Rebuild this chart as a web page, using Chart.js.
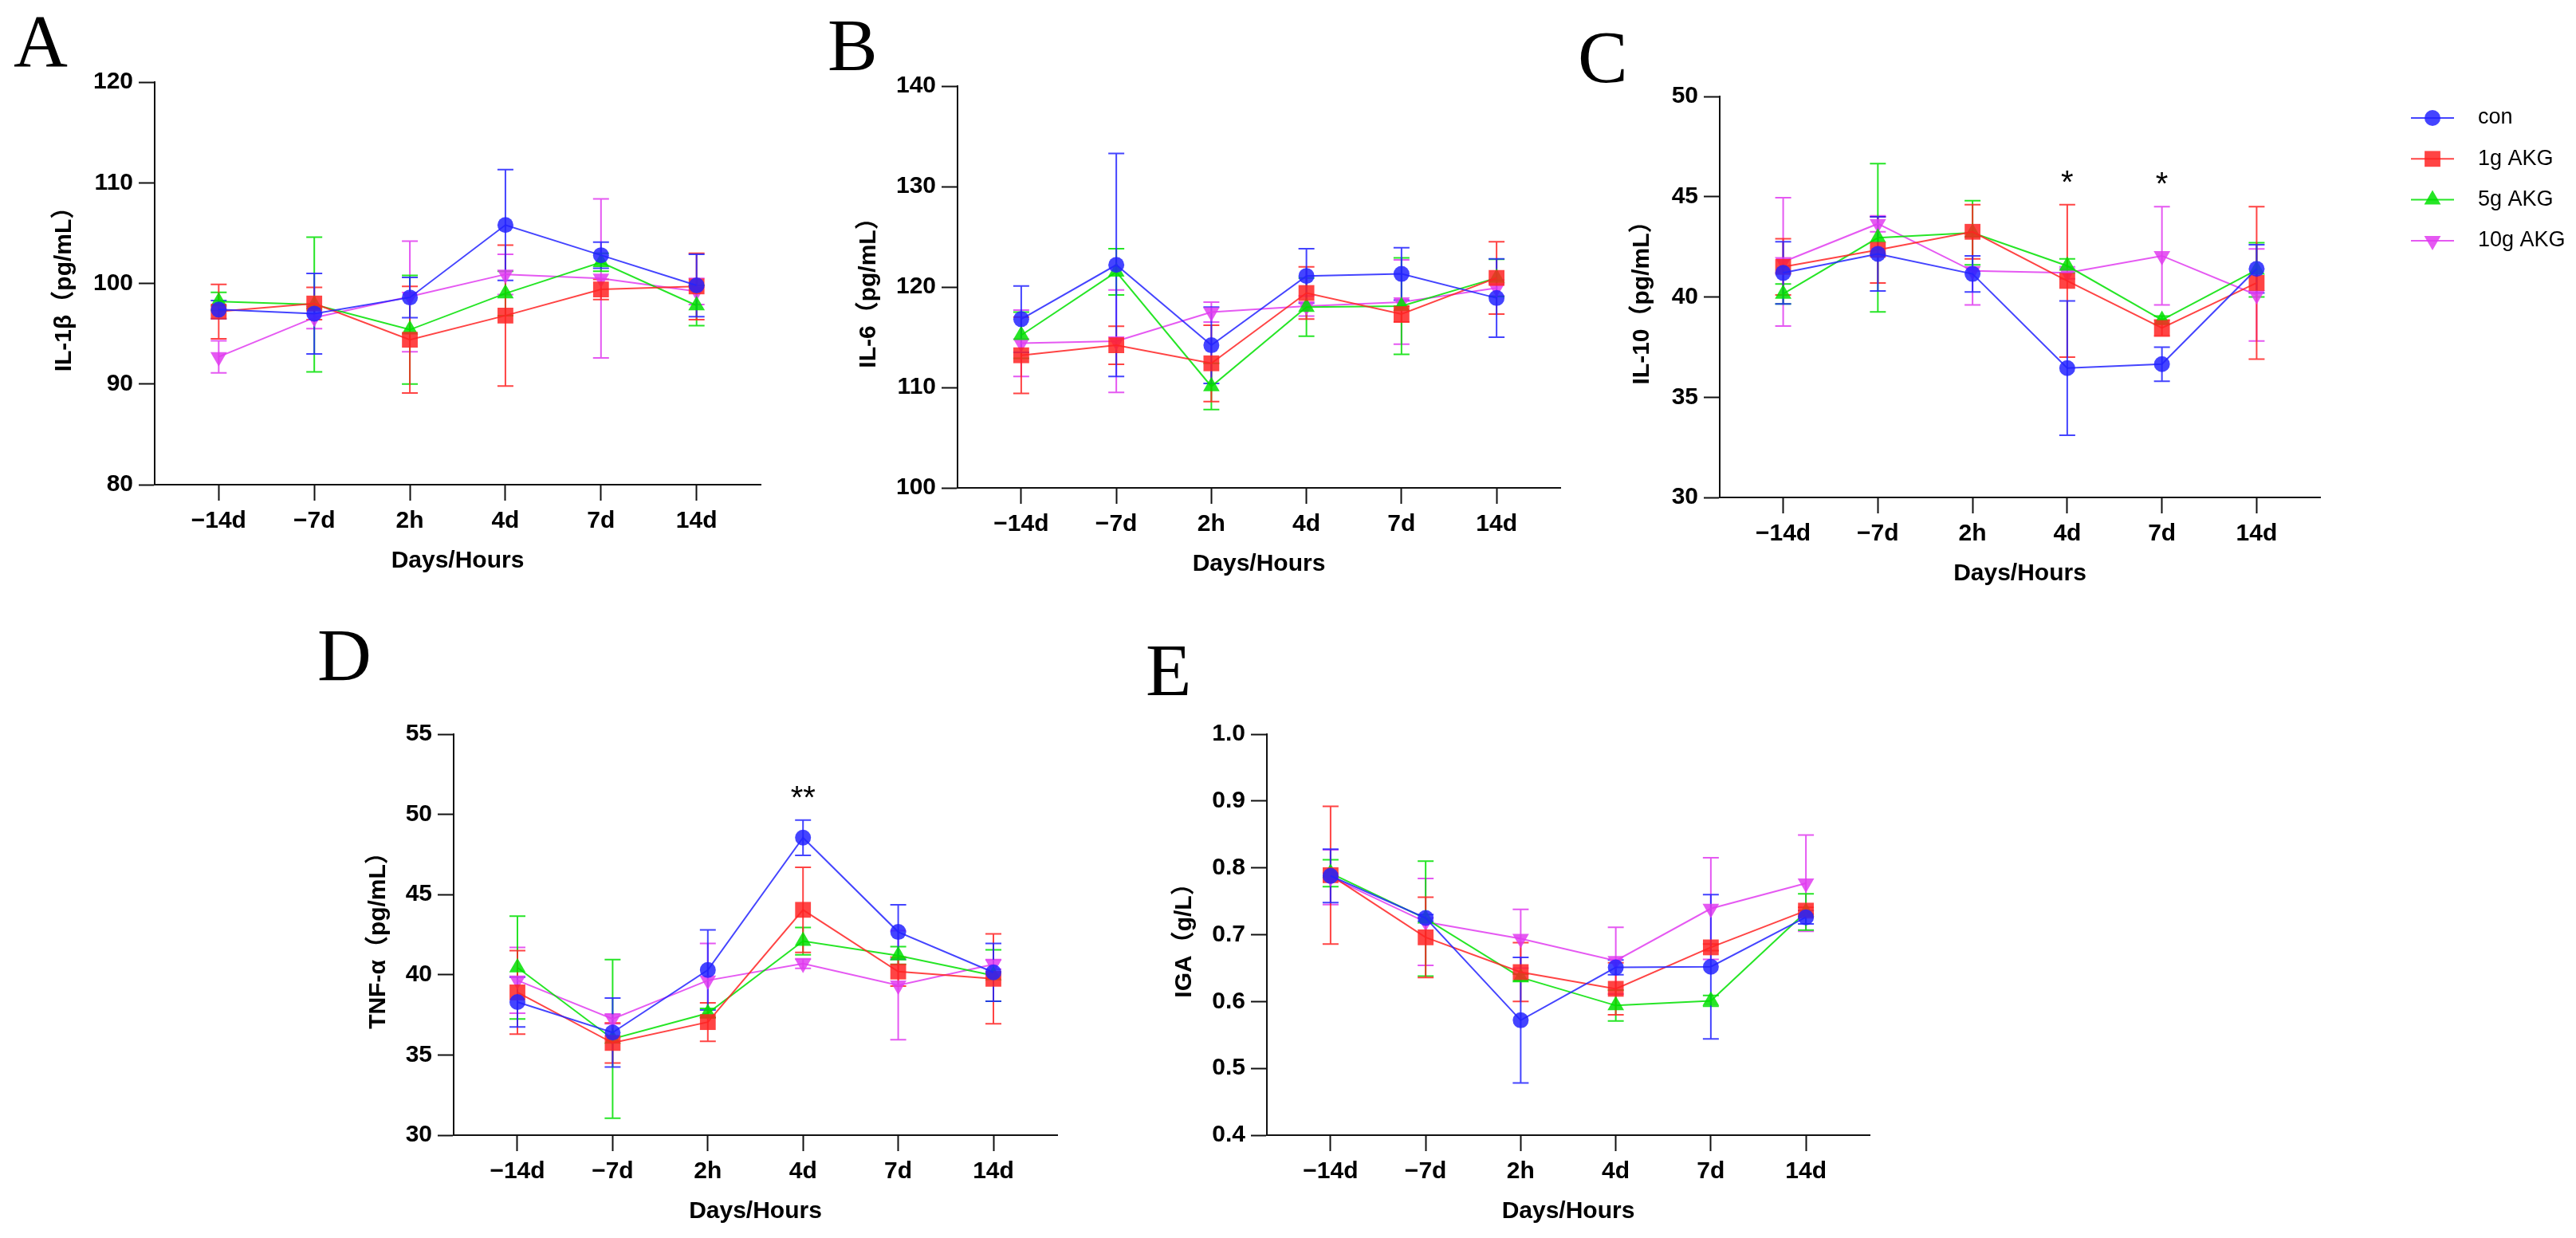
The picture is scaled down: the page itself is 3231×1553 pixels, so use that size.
<!DOCTYPE html>
<html lang="en">
<head>
<meta charset="UTF-8">
<title>Cytokines and IgA by day</title>
<script src="https://cdn.jsdelivr.net/npm/chart.js"></script>
<style>
    html, body {
        margin: 0;
        padding: 0;
        background: #fff;
    }
    body {
        width: 3231px;
        height: 1553px;
        position: relative;
        overflow: hidden;
    }
    .panel {
        position: absolute;
    }
    .letter {
        position: absolute;
        font-family: 'Liberation Serif', 'Times New Roman', serif;
        font-size: 94px;
        line-height: 1;
        color: #000;
    }
</style>
</head>
<body>
    <div class="letter" style="left:17px;top:4px">A</div>
    <div class="letter" style="left:1038px;top:9px">B</div>
    <div class="letter" style="left:1979px;top:24px">C</div>
    <div class="letter" style="left:398px;top:774px">D</div>
    <div class="letter" style="left:1437px;top:793px">E</div>

    <div class="panel" id="boxA"><canvas id="chartA"></canvas></div>
    <div class="panel" id="boxB"><canvas id="chartB"></canvas></div>
    <div class="panel" id="boxC"><canvas id="chartC"></canvas></div>
    <div class="panel" id="boxD"><canvas id="chartD"></canvas></div>
    <div class="panel" id="boxE"><canvas id="chartE"></canvas></div>

<script>
// sampling points on the x axis
var days = ['\u221214d', '\u22127d', '2h', '4d', '7d', '14d'];
var groups = ['con', '1g AKG', '5g AKG', '10g AKG'];

// A: IL-1β (pg/mL), mean and SD per group
var il1bTicks = [80, 90, 100, 110, 120];
var il1bCon = [97.4, 97.0, 98.6, 105.8, 102.8, 99.8];
var il1bConSd = [0.9, 4.0, 2.0, 5.5, 1.3, 3.1];
var il1b1g = [97.2, 98.0, 94.4, 96.8, 99.4, 99.7];
var il1b1gSd = [2.7, 1.6, 5.3, 7.0, 1.0, 3.3];
var il1b5g = [98.2, 97.9, 95.4, 99.0, 102.1, 97.8];
var il1b5gSd = [0.9, 6.7, 5.4, 2.2, 0.9, 2.0];
var il1b10g = [92.7, 96.6, 98.7, 100.9, 100.5, 99.2];
var il1b10gSd = [1.6, 1.1, 5.5, 2.0, 7.9, 1.3];
var il1bSig = ['', '', '', '', '', ''];

// B: IL-6 (pg/mL)
var il6Ticks = [100, 110, 120, 130, 140];
var il6Con = [116.8, 122.2, 114.2, 121.1, 121.3, 118.9];
var il6ConSd = [3.3, 11.1, 3.8, 2.7, 2.6, 3.9];
var il61g = [113.2, 114.2, 112.4, 119.4, 117.3, 120.9];
var il61gSd = [3.8, 1.9, 3.8, 2.6, 0.8, 3.6];
var il65g = [115.2, 121.5, 110.1, 118.0, 118.1, 120.9];
var il65gSd = [2.3, 2.3, 2.3, 2.9, 4.8, 1.85];
var il610g = [114.4, 114.6, 117.5, 118.1, 118.5, 119.9];
var il610gSd = [3.3, 5.1, 1.0, 1.0, 4.2, 0.8];
var il6Sig = ['', '', '', '', '', ''];

// C: IL-10 (pg/mL)
var il10Ticks = [30, 35, 40, 45, 50];
var il10Con = [41.2, 42.15, 41.15, 36.45, 36.65, 41.4];
var il10ConSd = [1.55, 1.85, 0.9, 3.35, 0.85, 1.2];
var il101g = [41.5, 42.35, 43.25, 40.8, 38.45, 40.7];
var il101gSd = [1.4, 1.65, 1.35, 3.8, 0.4, 3.8];
var il105g = [40.15, 42.95, 43.2, 41.55, 38.85, 41.35];
var il105gSd = [0.5, 3.7, 1.6, 0.35, 0.2, 1.35];
var il1010g = [41.75, 43.65, 41.3, 41.2, 42.05, 40.1];
var il1010gSd = [3.2, 0.4, 1.7, 0.3, 2.45, 2.3];
var il10Sig = ['', '', '', '*', '*', ''];

// D: TNF-α (pg/mL)
var tnfTicks = [30, 35, 40, 45, 50, 55];
var tnfCon = [38.3, 36.4, 40.3, 48.55, 42.67, 40.15];
var tnfConSd = [1.55, 2.15, 2.5, 1.1, 1.7, 1.8];
var tnf1g = [38.9, 35.75, 37.05, 44.05, 40.2, 39.75];
var tnf1gSd = [2.6, 1.25, 1.2, 2.65, 0.9, 2.8];
var tnf5g = [40.45, 36.0, 37.6, 42.1, 41.2, 39.95];
var tnf5gSd = [3.2, 4.95, 0.3, 0.85, 0.55, 1.6];
var tnf10g = [39.65, 37.25, 39.65, 40.7, 39.35, 40.65];
var tnf10gSd = [2.05, 0.3, 2.3, 0.3, 3.4, 0.3];
var tnfSig = ['', '', '', '**', '', ''];

// E: IgA (g/L)
var igaTicks = [0.4, 0.5, 0.6, 0.7, 0.8, 0.9, 1.0];
var igaCon = [0.788, 0.725, 0.572, 0.651, 0.652, 0.726];
var igaConSd = [0.04, 0.005, 0.094, 0.011, 0.108, 0.01];
var iga1g = [0.789, 0.696, 0.644, 0.619, 0.681, 0.736];
var iga1gSd = [0.103, 0.06, 0.044, 0.039, 0.005, 0.005];
var iga5g = [0.792, 0.724, 0.636, 0.594, 0.601, 0.734];
var iga5gSd = [0.02, 0.086, 0.005, 0.023, 0.008, 0.027];
var iga10g = [0.786, 0.719, 0.694, 0.661, 0.739, 0.777];
var iga10gSd = [0.041, 0.065, 0.044, 0.05, 0.076, 0.072];
var igaSig = ['', '', '', '', '', ''];

var FONT = "'Liberation Sans', 'Noto Sans CJK SC', Arial, sans-serif";
Chart.defaults.font.family = FONT;
Chart.defaults.color = '#000';

// look of each group
var styles = [
    { color: 'rgba(35,35,255,0.85)', point: 'circle', radius: 10, rotation: 0 },
    { color: 'rgba(255,35,35,0.85)', point: 'rect', radius: 14, rotation: 0 },
    { color: 'rgba(0,225,0,0.85)', point: 'triangle', radius: 12, rotation: 0 },
    { color: 'rgba(225,60,240,0.85)', point: 'triangle', radius: 12, rotation: 180 }
];

// mean +/- SD bars, drawn under the markers
var errorBars = {
    id: 'errorBars',
    beforeDatasetsDraw: function(chart) {
        var ctx = chart.ctx, xs = chart.scales.x, ys = chart.scales.y;
        ctx.save();
        ctx.lineWidth = 2;
        for (var d = chart.data.datasets.length - 1; d >= 0; d--) {
            var ds = chart.data.datasets[d];
            ctx.strokeStyle = ds.borderColor;
            ds.data.forEach(function(p, i) {
                var x = xs.getPixelForValue(p.x);
                var y1 = ys.getPixelForValue(p.y + ds.sd[i]);
                var y2 = ys.getPixelForValue(p.y - ds.sd[i]);
                ctx.beginPath();
                ctx.moveTo(x, y1); ctx.lineTo(x, y2);
                ctx.moveTo(x - 10, y1); ctx.lineTo(x + 10, y1);
                ctx.moveTo(x - 10, y2); ctx.lineTo(x + 10, y2);
                ctx.stroke();
            });
        }
        ctx.restore();
    }
};

// significance marks above the highest bar of a time point
var stars = {
    id: 'stars',
    afterDatasetsDraw: function(chart, args, opts) {
        if (!opts.marks) return;
        var ctx = chart.ctx, xs = chart.scales.x, ys = chart.scales.y;
        ctx.save();
        ctx.fillStyle = '#000';
        ctx.font = '40px ' + FONT;
        ctx.textAlign = 'center';
        ctx.textBaseline = 'alphabetic';
        opts.marks.forEach(function(m, i) {
            if (!m) return;
            var top = Infinity;
            chart.data.datasets.forEach(function(ds) {
                top = Math.min(top, ys.getPixelForValue(ds.data[i].y + ds.sd[i]));
            });
            ctx.fillText(m, xs.getPixelForValue(i), top - 38 + 23);
        });
        ctx.restore();
    }
};

// legend with a line through the marker, right of the chart
var lineLegend = {
    id: 'lineLegend',
    afterDraw: function(chart, args, opts) {
        if (!opts.show) return;
        var ctx = chart.ctx, a = chart.chartArea;
        ctx.save();
        chart.data.datasets.forEach(function(ds, k) {
            var y = a.top + 27 + k * 51.3;
            var x0 = a.right + 114;
            ctx.strokeStyle = ds.borderColor;
            ctx.lineWidth = 2;
            ctx.beginPath();
            ctx.moveTo(x0, y);
            ctx.lineTo(x0 + 54, y);
            ctx.stroke();
            ctx.fillStyle = ds.pointBackgroundColor;
            Chart.helpers.drawPoint(ctx, {
                pointStyle: ds.pointStyle, rotation: ds.pointRotation,
                radius: ds.pointRadius, borderWidth: 0
            }, x0 + 27, y);
            ctx.fillStyle = '#000';
            ctx.font = '27px ' + FONT;
            ctx.textAlign = 'left';
            ctx.textBaseline = 'middle';
            ctx.fillText(ds.label, x0 + 84, y);
        });
        ctx.restore();
    }
};

function series(k, means, sds) {
    var s = styles[k];
    return {
        label: groups[k],
        data: means.map(function(v, i) { return { x: i, y: v }; }),
        sd: sds,
        borderColor: s.color,
        backgroundColor: s.color,
        pointBackgroundColor: s.color,
        pointBorderColor: s.color,
        pointBorderWidth: 0,
        pointStyle: s.point,
        pointRadius: s.radius,
        pointHoverRadius: s.radius,
        pointRotation: s.rotation,
        borderWidth: 2,
        tension: 0,
        clip: false
    };
}

// area = plot rectangle on the page, titleX = centre of the y title
function createPanel(id, area, titleX, yTitle, yTicks, sets, marks, legend, decimals) {
    var padTop = 30, xBox = 114;
    var padRight = legend ? 3231 - area.r : 40;
    var left = titleX - 18;
    var top = area.t - padTop;
    var box = document.getElementById('box' + id);
    box.style.left = left + 'px';
    box.style.top = top + 'px';
    box.style.width = (area.r - left + padRight) + 'px';
    box.style.height = (area.b - area.t + padTop + xBox) + 'px';

    var axisGrid = {
        display: true, drawOnChartArea: false, drawTicks: true,
        tickLength: 20, tickWidth: 2, color: '#111'
    };

    return new Chart(document.getElementById('chart' + id), {
        type: 'line',
        data: { datasets: sets },
        options: {
            responsive: true,
            maintainAspectRatio: false,
            animation: false,
            events: [],
            layout: { autoPadding: false, padding: { left: 0, top: padTop, right: padRight, bottom: 0 } },
            plugins: {
                legend: { display: false },
                tooltip: { enabled: false },
                stars: { marks: marks },
                lineLegend: { show: legend }
            },
            scales: {
                x: {
                    type: 'linear',
                    min: -0.67,
                    max: 5.67,
                    afterBuildTicks: function(s) {
                        s.ticks = days.map(function(d, i) { return { value: i }; });
                    },
                    afterFit: function(s) { s.height = xBox; },
                    grid: axisGrid,
                    border: { display: true, width: 2, color: '#111' },
                    ticks: {
                        padding: 8,
                        maxRotation: 0,
                        autoSkip: false,
                        font: { size: 30, weight: 'bold' },
                        callback: function(v) { return days[v]; }
                    },
                    title: {
                        display: true,
                        text: 'Days/Hours',
                        padding: 0,
                        font: { size: 30, weight: 'bold' }
                    }
                },
                y: {
                    min: yTicks[0],
                    max: yTicks[yTicks.length - 1],
                    afterBuildTicks: function(s) {
                        s.ticks = yTicks.map(function(v) { return { value: v }; });
                    },
                    afterFit: function(s) { s.width = area.l - left; },
                    grid: axisGrid,
                    border: { display: true, width: 2, color: '#111' },
                    ticks: {
                        padding: 7,
                        autoSkip: false,
                        font: { size: 30, weight: 'bold' },
                        callback: function(v) { return v.toFixed(decimals); }
                    },
                    title: {
                        display: true,
                        text: yTitle,
                        padding: 0,
                        font: { size: 30, weight: 'bold' }
                    }
                }
            }
        },
        plugins: [errorBars, stars, lineLegend]
    });
}

createPanel('A', { l: 194, t: 103, r: 954, b: 608 }, 81, 'IL-1\u03b2\uff08pg/mL\uff09', il1bTicks, [
    series(0, il1bCon, il1bConSd), series(1, il1b1g, il1b1gSd),
    series(2, il1b5g, il1b5gSd), series(3, il1b10g, il1b10gSd)
], il1bSig, false, 0);

createPanel('B', { l: 1201, t: 108, r: 1957, b: 612 }, 1090, 'IL-6\uff08pg/mL\uff09', il6Ticks, [
    series(0, il6Con, il6ConSd), series(1, il61g, il61gSd),
    series(2, il65g, il65gSd), series(3, il610g, il610gSd)
], il6Sig, false, 0);

createPanel('C', { l: 2157, t: 121, r: 2910, b: 624 }, 2060, 'IL-10\uff08pg/mL\uff09', il10Ticks, [
    series(0, il10Con, il10ConSd), series(1, il101g, il101gSd),
    series(2, il105g, il105gSd), series(3, il1010g, il1010gSd)
], il10Sig, true, 0);

createPanel('D', { l: 569, t: 921, r: 1326, b: 1424 }, 475, 'TNF-\u03b1\uff08pg/mL\uff09', tnfTicks, [
    series(0, tnfCon, tnfConSd), series(1, tnf1g, tnf1gSd),
    series(2, tnf5g, tnf5gSd), series(3, tnf10g, tnf10gSd)
], tnfSig, false, 0);

createPanel('E', { l: 1589, t: 921, r: 2345, b: 1424 }, 1486, 'IGA\uff08g/L\uff09', igaTicks, [
    series(0, igaCon, igaConSd), series(1, iga1g, iga1gSd),
    series(2, iga5g, iga5gSd), series(3, iga10g, iga10gSd)
], igaSig, false, 1);
</script>
</body>
</html>
